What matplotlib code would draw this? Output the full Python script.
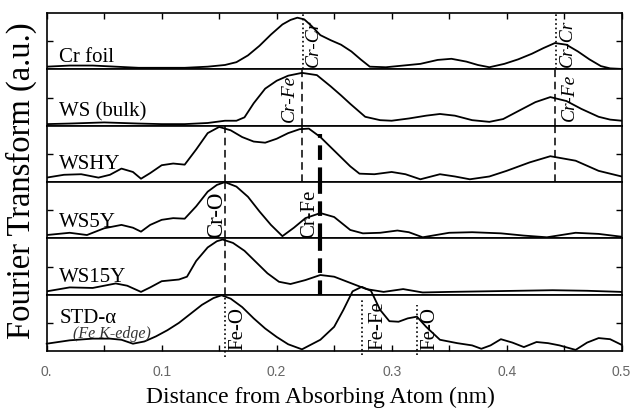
import matplotlib
matplotlib.use('Agg')
import matplotlib.pyplot as plt

plt.rcParams['font.family'] = ['Liberation Serif', 'DejaVu Serif']

# Cr foil
cr_foil_x = [0, 0.02, 0.04, 0.06, 0.08, 0.10, 0.12, 0.14, 0.155, 0.165, 0.175, 0.185, 0.195, 0.205, 0.212,
             0.218, 0.224, 0.23, 0.238, 0.247, 0.256, 0.265, 0.273, 0.281, 0.295, 0.31, 0.325, 0.34, 0.352,
             0.365, 0.375, 0.385, 0.398, 0.41, 0.422, 0.432, 0.442, 0.452, 0.462, 0.472, 0.482, 0.49, 0.5]
cr_foil_y = [0.05, 0.07, 0.07, 0.05, 0.03, 0.03, 0.03, 0.05, 0.08, 0.13, 0.25, 0.42, 0.62, 0.80, 0.88,
             0.92, 0.89, 0.78, 0.61, 0.52, 0.44, 0.32, 0.18, 0.05, 0.04, 0.07, 0.10, 0.17, 0.19,
             0.14, 0.08, 0.04, 0.10, 0.18, 0.28, 0.38, 0.47, 0.44, 0.32, 0.18, 0.06, 0.02, 0.01]

# WS (bulk)
ws_bulk_x = [0, 0.02, 0.05, 0.08, 0.10, 0.12, 0.14, 0.155, 0.165, 0.172, 0.18, 0.19, 0.20, 0.21, 0.222,
             0.235, 0.247, 0.256, 0.264, 0.277, 0.29, 0.30, 0.315, 0.33, 0.342, 0.355, 0.37, 0.385, 0.397,
             0.41, 0.425, 0.438, 0.452, 0.465, 0.48, 0.49, 0.5]
ws_bulk_y = [0.03, 0.04, 0.06, 0.04, 0.03, 0.03, 0.05, 0.09, 0.09, 0.15, 0.40, 0.66, 0.80, 0.89, 0.94,
             0.90, 0.70, 0.54, 0.39, 0.16, 0.10, 0.09, 0.13, 0.18, 0.21, 0.18, 0.10, 0.07, 0.12,
             0.26, 0.42, 0.51, 0.44, 0.30, 0.16, 0.11, 0.09]

# WSHY
wshy_x = [0, 0.015, 0.03, 0.045, 0.055, 0.065, 0.075, 0.082, 0.09, 0.10, 0.11, 0.12, 0.13, 0.14, 0.15,
          0.16, 0.17, 0.18, 0.19, 0.20, 0.21, 0.22, 0.228, 0.238, 0.248, 0.256, 0.264, 0.272, 0.285, 0.30,
          0.312, 0.325, 0.342, 0.355, 0.368, 0.385, 0.40, 0.42, 0.438, 0.46, 0.48, 0.5]
wshy_y = [0.08, 0.13, 0.14, 0.08, 0.13, 0.24, 0.18, 0.06, 0.16, 0.30, 0.33, 0.31, 0.58, 0.87, 0.98,
          0.92, 0.80, 0.72, 0.70, 0.77, 0.87, 0.94, 0.95, 0.80, 0.60, 0.44, 0.28, 0.15, 0.14, 0.18,
          0.14, 0.05, 0.14, 0.10, 0.05, 0.10, 0.20, 0.35, 0.46, 0.38, 0.20, 0.10]

# WS5Y
ws5y_x = [0, 0.02, 0.035, 0.05, 0.065, 0.075, 0.082, 0.09, 0.10, 0.11, 0.12, 0.13, 0.14, 0.148, 0.155,
          0.165, 0.175, 0.185, 0.195, 0.205, 0.215, 0.225, 0.238, 0.25, 0.264, 0.275, 0.29, 0.305, 0.315,
          0.327, 0.35, 0.37, 0.395, 0.415, 0.435, 0.46, 0.48, 0.5]
ws5y_y = [0.06, 0.10, 0.06, 0.18, 0.24, 0.19, 0.12, 0.24, 0.33, 0.36, 0.35, 0.57, 0.83, 0.95, 1.0,
          0.92, 0.74, 0.48, 0.24, 0.04, 0.19, 0.36, 0.45, 0.38, 0.15, 0.09, 0.10, 0.14, 0.11,
          0.02, 0.10, 0.11, 0.09, 0.05, 0.02, 0.10, 0.08, 0.03]

# WS15Y
ws15y_x = [0, 0.02, 0.04, 0.06, 0.07, 0.082, 0.09, 0.10, 0.115, 0.122, 0.13, 0.14, 0.148, 0.153, 0.162,
           0.172, 0.182, 0.192, 0.202, 0.212, 0.225, 0.238, 0.25, 0.264, 0.278, 0.293, 0.31, 0.327, 0.35,
           0.38, 0.41, 0.44, 0.47, 0.5]
ws15y_y = [0.06, 0.13, 0.12, 0.20, 0.16, 0.05, 0.13, 0.24, 0.27, 0.32, 0.60, 0.84, 0.95, 0.98, 0.92,
           0.78, 0.58, 0.38, 0.23, 0.19, 0.26, 0.35, 0.32, 0.21, 0.10, 0.05, 0.10, 0.04, 0.05,
           0.06, 0.07, 0.08, 0.07, 0.05]

# STD-alpha (Fe K-edge)
std_x = [0, 0.02, 0.04, 0.055, 0.065, 0.075, 0.085, 0.095, 0.105, 0.115, 0.125, 0.135, 0.145, 0.152, 0.16,
         0.17, 0.18, 0.19, 0.20, 0.21, 0.222, 0.238, 0.25, 0.258, 0.266, 0.274, 0.282, 0.29, 0.298, 0.306,
         0.314, 0.322, 0.33, 0.342, 0.357, 0.37, 0.378, 0.386, 0.395, 0.405, 0.415, 0.426, 0.436, 0.446,
         0.46, 0.47, 0.48, 0.49, 0.5]
std_y = [0.13, 0.19, 0.22, 0.22, 0.20, 0.13, 0.17, 0.26, 0.37, 0.50, 0.66, 0.82, 0.94, 0.99, 0.93,
         0.78, 0.58, 0.40, 0.25, 0.12, 0.03, 0.20, 0.43, 0.73, 1.06, 1.14, 1.07, 0.73, 0.53, 0.52,
         0.58, 0.61, 0.43, 0.20, 0.14, 0.10, 0.04, 0.10, 0.21, 0.15, 0.07, 0.16, 0.14, 0.10,
         0.02, 0.15, 0.23, 0.21, 0.11]

names = ['Cr foil', 'WS (bulk)', 'WSHY', 'WS5Y', 'WS15Y', 'STD-\u03b1']
xs = [cr_foil_x, ws_bulk_x, wshy_x, ws5y_x, ws15y_x, std_x]
ys = [cr_foil_y, ws_bulk_y, wshy_y, ws5y_y, ws15y_y, std_y]
name_y = [0.14, 0.16, 0.23, 0.21, 0.23, 0.50]

fig, axes = plt.subplots(6, 1, sharex=True, figsize=(6.33, 4.12), dpi=100,
                         gridspec_kw=dict(hspace=0))
fig.subplots_adjust(left=0.0738, right=0.982, top=0.968, bottom=0.148)

for i, ax in enumerate(axes):
    ax.plot(xs[i], ys[i], color='black', lw=1.3, clip_on=(i != 5), zorder=3)
    ax.set_xlim(0, 0.5)
    ax.set_ylim(0, 1)
    ax.set_yticks([0.5])
    ax.tick_params(axis='y', direction='in', length=4, left=True, right=True,
                   labelleft=False, width=1)
    ax.tick_params(axis='x', which='both', direction='in', length=4, width=1,
                   top=(i == 0), bottom=(i == 5), labelbottom=(i == 5))
    for s in ax.spines.values():
        s.set_linewidth(1.2)
    ax.text(0.011, name_y[i], names[i], fontsize=15, va='baseline')

ax6 = axes[5]
ax6.set_xticks([0, 0.1, 0.2, 0.3, 0.4, 0.5])
ax6.set_xticks([0.05, 0.15, 0.25, 0.35, 0.45], minor=True)
ax6.set_xticklabels(['0.', '0.1', '0.2', '0.3', '0.4', '0.5'], family='Liberation Sans',
                    fontsize=10, color='#666666')
ax6.tick_params(axis='x', pad=10)
ax6.text(0.023, 0.23, '(Fe K-edge)', fontsize=11.5, style='italic', color='#333333', va='baseline')

# 위쪽 패널 x 눈금
axes[0].tick_params(axis='x', which='both', top=True, labeltop=False)

# 보조선 (dotted / dashed)
thin_dash = dict(color='black', lw=1.1, dashes=(5, 3))
axes[0].axvline(0.223, color='black', ls=':', lw=1.2)
axes[0].axvline(0.443, color='black', ls=':', lw=1.2)
for ax in axes[1:3]:
    ax.axvline(0.222, **thin_dash)
    ax.axvline(0.442, **thin_dash)
for ax in axes[2:5]:
    ax.axvline(0.155, **thin_dash)

thick_dash = dict(color='black', lw=3, dashes=(3.5, 1.8))
axes[2].axvline(0.238, ymin=0, ymax=0.85, **thick_dash)
axes[3].axvline(0.238, **thick_dash)
axes[4].axvline(0.238, **thick_dash)

tr = ax6.get_xaxis_transform()
ax6.plot([0.155, 0.155], [-0.1, 1.0], color='black', ls=':', lw=1.2, transform=tr, clip_on=False)
ax6.plot([0.274, 0.274], [-0.07, 0.95], color='black', ls=':', lw=1.2, transform=tr, clip_on=False)
ax6.plot([0.322, 0.322], [-0.07, 0.82], color='black', ls=':', lw=1.2, transform=tr, clip_on=False)

# 결합 라벨
axes[0].text(0.232, 0.47, 'Cr-Cr', rotation=90, style='italic', fontsize=14, ha='center', va='center')
axes[0].text(0.453, 0.47, 'Cr-Cr', rotation=90, style='italic', fontsize=14, ha='center', va='center')
axes[1].text(0.211, 0.48, 'Cr-Fe', rotation=90, style='italic', fontsize=14, ha='center', va='center')
axes[1].text(0.455, 0.50, 'Cr-Fe', rotation=90, style='italic', fontsize=14, ha='center', va='center')
axes[3].text(0.148, 0.0, 'Cr-O', rotation=90, fontsize=16.5, ha='center', va='bottom')
axes[3].text(0.229, 0.0, 'Cr-Fe', rotation=90, fontsize=15, ha='center', va='bottom')
ax6.text(0.166, 0.02, 'Fe-O', rotation=90, fontsize=15, ha='center', va='bottom')
ax6.text(0.288, 0.02, 'Fe-Fe', rotation=90, fontsize=15, ha='center', va='bottom')
ax6.text(0.333, 0.02, 'Fe-O', rotation=90, fontsize=15, ha='center', va='bottom')

# 축 제목
fig.text(0.507, 0.036, 'Distance from Absorbing Atom (nm)', fontsize=17, ha='center', va='center')
fig.text(0.033, 0.562, 'Fourier Transform (a.u.)', fontsize=23.5, rotation=90, ha='center', va='center')

plt.savefig('out.png', dpi=100)
